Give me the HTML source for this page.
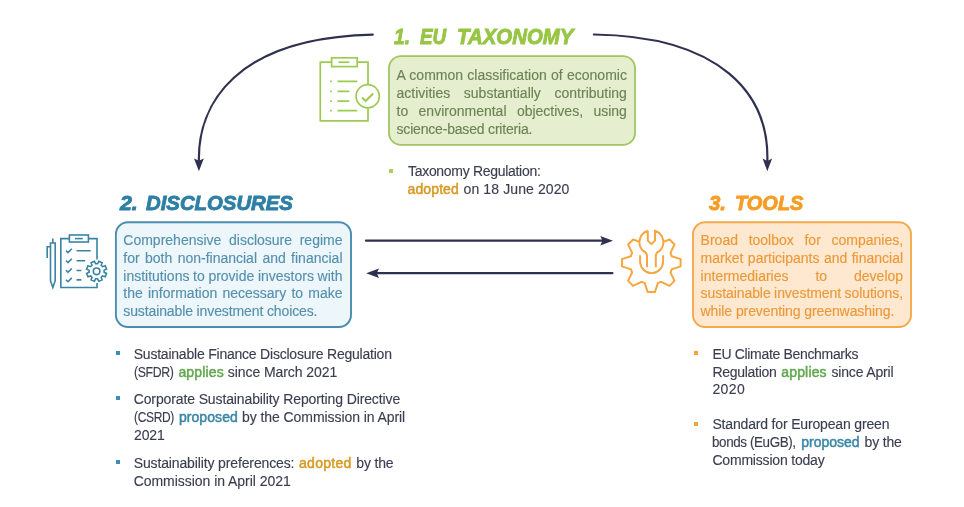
<!DOCTYPE html>
<html lang="en">
<head>
<meta charset="utf-8">
<title>EU Sustainable Finance</title>
<style>
html,body{margin:0;padding:0;background:#fff;}
body{width:964px;height:507px;position:relative;overflow:hidden;font-family:"Liberation Sans",sans-serif;}
.title{position:absolute;display:block;transform-origin:0 0;-webkit-text-stroke:0.9px currentColor;font-weight:bold;font-style:italic;font-size:21px;line-height:24px;white-space:nowrap;}
.ln{position:absolute;display:block;transform-origin:0 0;-webkit-text-stroke:0.14px currentColor;white-space:nowrap;font-size:14.0px;line-height:18px;height:18px;}
.g,.b,.o{-webkit-text-stroke:0.5px currentColor}.g{color:#62a850}.b{color:#3b87a6}.o{color:#d69a24}
.sq{position:absolute;display:block;}
section,h2,ul,li,.card{margin:0;padding:0;list-style:none;font:inherit;}
svg{position:absolute;left:0;top:0;}
</style>
</head>
<body>
<div id="stage" style="position:absolute;left:0;top:0;width:964px;height:507px;will-change:transform;">
<!-- boxes -->
<svg width="964" height="507" viewBox="0 0 964 507">
  <rect x="389" y="56.2" width="246" height="88.7" rx="12" ry="12" fill="#e5efcf" stroke="#a2c560" stroke-width="1.8"/>
  <rect x="115.9" y="222.2" width="235.1" height="104.8" rx="12" ry="12" fill="#edf6fb" stroke="#4a8dae" stroke-width="1.9"/>
  <rect x="693" y="222.2" width="218" height="104.8" rx="12" ry="12" fill="#fee8d0" stroke="#f4aa4c" stroke-width="1.9"/>
</svg>

<section>
<h2><span class="title" style="left:393.70px;top:25.35px;color:#97c644;font-size:21.5px;transform:scaleX(0.8920);">1.</span>
<span class="title" style="left:420.00px;top:25.35px;color:#97c644;font-size:21.5px;transform:scaleX(0.8770);">EU</span>
<span class="title" style="left:456.60px;top:25.35px;color:#97c644;font-size:21.5px;transform:scaleX(0.9491);">TAXONOMY</span></h2>
<div class="card">
<span class="ln" style="left:396.50px;top:65.95px;color:#6c8354;letter-spacing:0.000px;word-spacing:0.409px;">A common classification of economic</span>
<span class="ln" style="left:396.50px;top:83.95px;color:#6c8354;letter-spacing:0.000px;word-spacing:9.755px;">activities substantially contributing</span>
<span class="ln" style="left:396.50px;top:101.95px;color:#6c8354;letter-spacing:0.000px;word-spacing:6.498px;">to environmental objectives, using</span>
<span class="ln" style="left:396.50px;top:119.75px;color:#6c8354;letter-spacing:-0.185px;">science-based criteria.</span>
</div>
<ul>
<li><span class="sq" style="left:389.3px;top:168.9px;width:3.8px;height:3.8px;background:#a9cf5c;"></span>
<span class="ln" style="left:408.00px;top:162.15px;color:#3b3d50;letter-spacing:-0.302px;">Taxonomy Regulation:</span>
<span class="ln" style="left:407.60px;top:180.45px;color:#3b3d50;letter-spacing:0.098px;"><span class="o">adopted</span></span>
<span class="ln" style="left:463.60px;top:180.45px;color:#3b3d50;letter-spacing:0.105px;">on 18 June 2020</span></li>
</ul>
</section>
<section>
<h2><span class="title" style="left:120.30px;top:190.62px;color:#2d7fa5;font-size:21px;transform:scaleX(1.0162);">2.</span>
<span class="title" style="left:145.70px;top:190.62px;color:#2d7fa5;font-size:21px;transform:scaleX(0.9684);">DISCLOSURES</span></h2>
<div class="card">
<span class="ln" style="left:123.30px;top:230.65px;color:#5590ad;letter-spacing:0.000px;word-spacing:3.772px;">Comprehensive disclosure regime</span>
<span class="ln" style="left:123.30px;top:248.55px;color:#5590ad;letter-spacing:0.000px;word-spacing:1.484px;">for both non-financial and financial</span>
<span class="ln" style="left:123.30px;top:266.55px;color:#5590ad;letter-spacing:0.000px;word-spacing:-0.255px;">institutions to provide investors with</span>
<span class="ln" style="left:123.30px;top:284.45px;color:#5590ad;letter-spacing:0.000px;word-spacing:1.300px;">the information necessary to make</span>
<span class="ln" style="left:123.30px;top:302.35px;color:#5590ad;letter-spacing:-0.116px;">sustainable investment choices.</span>
</div>
<ul>
<li><span class="sq" style="left:115.6px;top:350.8px;width:4.2px;height:4.2px;background:#3e8db3;"></span>
<span class="ln" style="left:133.70px;top:344.65px;color:#3b3d50;letter-spacing:-0.216px;">Sustainable Finance Disclosure Regulation</span>
<span class="ln" style="left:134.00px;top:362.55px;color:#3b3d50;letter-spacing:-0.400px;transform:scaleX(0.8759);">(SFDR)</span>
<span class="ln" style="left:178.40px;top:362.55px;color:#3b3d50;letter-spacing:0.154px;"><span class="g">applies</span></span>
<span class="ln" style="left:227.80px;top:362.55px;color:#3b3d50;letter-spacing:-0.074px;">since March 2021</span></li>
<li><span class="sq" style="left:115.6px;top:396px;width:4.2px;height:4.2px;background:#3e8db3;"></span>
<span class="ln" style="left:133.70px;top:389.95px;color:#3b3d50;letter-spacing:-0.118px;">Corporate Sustainability Reporting Directive</span>
<span class="ln" style="left:134.00px;top:408.05px;color:#3b3d50;letter-spacing:-0.400px;transform:scaleX(0.8574);">(CSRD)</span>
<span class="ln" style="left:178.90px;top:408.05px;color:#3b3d50;letter-spacing:0.073px;"><span class="b">proposed</span></span>
<span class="ln" style="left:242.00px;top:408.05px;color:#3b3d50;letter-spacing:-0.070px;">by the Commission in April</span>
<span class="ln" style="left:134.00px;top:425.85px;color:#3b3d50;letter-spacing:-0.119px;">2021</span></li>
<li><span class="sq" style="left:115.6px;top:459.9px;width:4.2px;height:4.2px;background:#3e8db3;"></span>
<span class="ln" style="left:133.70px;top:453.65px;color:#3b3d50;letter-spacing:-0.131px;">Sustainability preferences:</span>
<span class="ln" style="left:299.00px;top:453.65px;color:#3b3d50;letter-spacing:0.282px;"><span class="o">adopted</span></span>
<span class="ln" style="left:356.30px;top:453.65px;color:#3b3d50;letter-spacing:-0.168px;">by the</span>
<span class="ln" style="left:133.70px;top:471.55px;color:#3b3d50;letter-spacing:-0.042px;">Commission in April 2021</span></li>
</ul>
</section>
<section>
<h2><span class="title" style="left:708.50px;top:190.52px;color:#f59d25;font-size:21px;transform:scaleX(0.9706);">3.</span>
<span class="title" style="left:735.40px;top:190.52px;color:#f59d25;font-size:21px;transform:scaleX(0.9506);">TOOLS</span></h2>
<div class="card">
<span class="ln" style="left:700.60px;top:230.65px;color:#ec9838;letter-spacing:0.000px;word-spacing:6.797px;">Broad toolbox for companies,</span>
<span class="ln" style="left:700.60px;top:248.55px;color:#ec9838;letter-spacing:0.000px;word-spacing:0.573px;">market participants and financial</span>
<span class="ln" style="left:700.60px;top:266.55px;color:#ec9838;letter-spacing:0.000px;word-spacing:23.039px;">intermediaries to develop</span>
<span class="ln" style="left:700.60px;top:284.45px;color:#ec9838;letter-spacing:-0.074px;word-spacing:-0.300px;">sustainable investment solutions,</span>
<span class="ln" style="left:700.60px;top:302.35px;color:#ec9838;letter-spacing:-0.084px;">while preventing greenwashing.</span>
</div>
<ul>
<li><span class="sq" style="left:693.8px;top:351.1px;width:4.2px;height:4.2px;background:#f6a23a;"></span>
<span class="ln" style="left:712.40px;top:344.65px;color:#3b3d50;letter-spacing:-0.325px;">EU Climate Benchmarks</span>
<span class="ln" style="left:712.40px;top:362.55px;color:#3b3d50;letter-spacing:-0.282px;">Regulation</span>
<span class="ln" style="left:781.30px;top:362.55px;color:#3b3d50;letter-spacing:0.154px;"><span class="g">applies</span></span>
<span class="ln" style="left:831.40px;top:362.55px;color:#3b3d50;letter-spacing:-0.161px;">since April</span>
<span class="ln" style="left:712.40px;top:380.45px;color:#3b3d50;letter-spacing:0.415px;">2020</span></li>
<li><span class="sq" style="left:693.8px;top:421.8px;width:4.2px;height:4.2px;background:#f6a23a;"></span>
<span class="ln" style="left:712.40px;top:415.35px;color:#3b3d50;letter-spacing:-0.164px;">Standard for European green</span>
<span class="ln" style="left:712.40px;top:433.35px;color:#3b3d50;letter-spacing:-0.400px;transform:scaleX(0.9578);">bonds (EuGB),</span>
<span class="ln" style="left:801.20px;top:433.35px;color:#3b3d50;letter-spacing:0.001px;"><span class="b">proposed</span></span>
<span class="ln" style="left:864.60px;top:433.35px;color:#3b3d50;letter-spacing:-0.168px;">by the</span>
<span class="ln" style="left:712.40px;top:451.25px;color:#3b3d50;letter-spacing:-0.190px;">Commission today</span></li>
</ul>
</section>
<svg width="964" height="507" viewBox="0 0 964 507" fill="none">
  <!-- arrows -->
  <g stroke="#2f3150" stroke-width="2.2" stroke-linecap="round">
    <path d="M372.8 34.6 C 235.7 37.7, 197.4 104, 198.9 162"/>
    <path d="M593.9 34.5 C 721.3 36.2, 769.6 94.8, 767.3 162"/>
    <path d="M366 240.7 H604"/>
    <path d="M375 273.2 H612.4"/>
  </g>
  <g fill="#2f3150">
    <path d="M198.9 171.2 L194 158.4 L198.9 160.8 L203.8 158.4 Z"/>
    <path d="M767.3 171.2 L762.6 158.6 L767.3 161 L772.1 158.6 Z"/>
    <path d="M613 240.7 L600.3 236 L602.5 240.7 L600.3 245.4 Z"/>
    <path d="M366.2 273.2 L379 268.5 L376.8 273.2 L379 277.9 Z"/>
  </g>

  <!-- icon 1: green clipboard with check -->
  <g stroke="#9ccb4f" stroke-width="1.7" fill="none" stroke-linejoin="miter">
    <path d="M331.6 62.1 H320.3 V120.9 H368 V108.2 M368 84.2 V62.1 H357.2"/>
    <rect x="331.6" y="57.8" width="25.6" height="8.8"/>
    <path d="M338.5 62.2 H349.3"/>
    <path d="M337.5 81.4 H357.2 M337.5 91.3 H349.3 M337.5 101.1 H349.3 M337.5 110.6 H357.2"/>
    <path d="M330.2 81.4 H331.9 M330.2 91.3 H331.9 M330.2 101.1 H331.9 M330.2 110.6 H331.9"/>
    <circle cx="367.7" cy="96.2" r="11.6"/>
    <path d="M362.1 97.6 L365.6 101.1 L373.2 93.4" stroke-width="2.1"/>
  </g>
  <!-- icon 2: blue clipboard, pen, gear -->
  <g stroke="#3a83a5" stroke-width="1.6" fill="none">
    <path d="M50.5 243 H55.2 V280.7 L52.85 287.6 L50.5 280.7 Z"/>
    <path d="M52.85 243 V238.4"/>
    <path d="M50.5 246.8 H47.2 V258"/>
    <path d="M69.4 238.6 H60.8 V287.5 H97 V283 M97 259.6 V238.6 H88.4"/>
    <rect x="69.4" y="235" width="19" height="7"/>
    <path d="M75 238.6 H82.8"/>
    <path d="M76.5 250.8 H90.7 M76.5 260.7 H85.2 M76.5 270.5 H81.3 M76.5 279.9 H81.3"/>
    <path d="M66 250.6 L68 252.6 L71.8 248.8 M66 260.5 L68 262.5 L71.8 258.7 M66 270.3 L68 272.3 L71.8 268.5 M66 279.7 L68 281.7 L71.8 277.9"/>
    <circle cx="96.6" cy="271.3" r="3.3"/>
    <path id="g2" d="M104.1 272.3 L106.6 273.5 L105.2 276.8 L102.6 275.9 L101.2 277.3 L102.1 279.9 L98.8 281.3 L97.6 278.8 L95.6 278.8 L94.4 281.3 L91.1 279.9 L92.0 277.3 L90.6 275.9 L88.0 276.8 L86.6 273.5 L89.1 272.3 L89.1 270.3 L86.6 269.1 L88.0 265.8 L90.6 266.7 L92.0 265.3 L91.1 262.7 L94.4 261.3 L95.6 263.8 L97.6 263.8 L98.8 261.3 L102.1 262.7 L101.2 265.3 L102.6 266.7 L105.2 265.8 L106.6 269.1 L104.1 270.3 Z"/>
  </g>
  <!-- icon 3: orange gear + wrench -->
  <g stroke="#f6a53f" stroke-width="1.95" fill="none" stroke-linejoin="miter">
    <path d="M663.3 241.8 L669.5 239.5 L674.5 244.5 L670.5 252.9 L671.7 256.1 L680.6 259.1 L680.6 266.3 L671.7 269.3 L670.5 272.5 L674.5 280.9 L669.5 285.9 L661.1 281.9 L657.9 283.1 L654.9 292.0 L647.7 292.0 L644.7 283.1 L641.5 281.9 L633.1 285.9 L628.1 280.9 L632.1 272.5 L630.9 269.3 L622.0 266.3 L622.0 259.1 L630.9 256.1 L632.1 252.9 L628.1 244.5 L633.1 239.5 L639.5 241.8"/>
    <path d="M647.8 230.8 V240.6 L651.4 244.2 L655 240.6 V230.8 A12 12 0 0 1 659.5 251 Q655.8 252.6 655.8 256 V267.2 M647 267.2 V256 Q647 252.6 643.3 251 A12 12 0 0 1 647.8 230.8"/>
    <path d="M640.1 255.3 V261.6 A11.5 11.5 0 0 0 663.1 261.6 V255.3"/>
  </g>
</svg>
</div>
</body>
</html>
